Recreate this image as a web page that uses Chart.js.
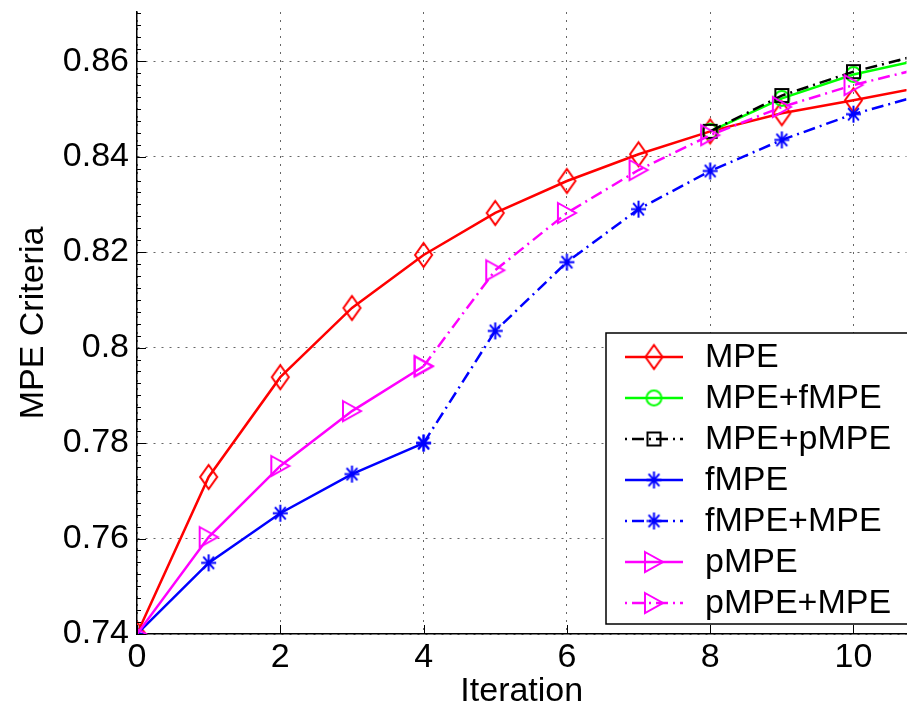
<!DOCTYPE html>
<html><head><meta charset="utf-8">
<script src="https://cdn.jsdelivr.net/npm/chart.js@4/dist/chart.umd.min.js"></script>
<style>html,body{margin:0;padding:0;background:#fff}canvas{display:block}</style>
</head><body>
<canvas id="c" width="907" height="709"></canvas>
<script>
// ---- data ----
const xTicks = [0, 2, 4, 6, 8, 10];
const yTicks = [0.74, 0.76, 0.78, 0.8, 0.82, 0.84, 0.86];
const yTickLabels = ['0.74', '0.76', '0.78', '0.8', '0.82', '0.84', '0.86'];
const seriesNames = ['MPE', 'MPE+fMPE', 'MPE+pMPE', 'fMPE', 'fMPE+MPE', 'pMPE', 'pMPE+MPE'];

const iterAll   = [0, 1, 2, 3, 4, 5, 6, 7, 8, 9, 10, 11];
const iterEarly = [0, 1, 2, 3, 4];
const iterMid   = [4, 5, 6, 7, 8, 9, 10, 11];
const iterLate  = [8, 9, 10, 11];

const valMPE      = [0.74, 0.7729, 0.7938, 0.8083, 0.8194, 0.8282, 0.8349, 0.8405, 0.8453, 0.8491, 0.8518, 0.8547];
const valMPEfMPE  = [0.8453, 0.8522, 0.8572, 0.8605];
const valMPEpMPE  = [0.8453, 0.8528, 0.8578, 0.8616];
const valfMPE     = [0.74, 0.7549, 0.7653, 0.7735, 0.7800];
const valfMPEMPE  = [0.7800, 0.8035, 0.8179, 0.8290, 0.8370, 0.8435, 0.8489, 0.8531];
const valpMPE     = [0.74, 0.7603, 0.7752, 0.7867, 0.7961];
const valpMPEMPE  = [0.7961, 0.8162, 0.8282, 0.8372, 0.8445, 0.8504, 0.8550, 0.8587];

// ---- styling ----
const FONT = "'Liberation Sans', Arial, Helvetica, sans-serif";
Chart.defaults.font.family = FONT;
Chart.defaults.color = '#000';

function marker(kind, color) {
  const lw = 2;
  let w, h;
  if (kind === 'diamond') { w = 17; h = 24; }
  else if (kind === 'circle') { w = 15; h = 15; }
  else if (kind === 'square') { w = 13; h = 13; }
  else if (kind === 'star') { w = 15; h = 17; }
  else { w = 18; h = 20; }
  const c = document.createElement('canvas');
  c.width = Math.ceil(w + lw * 2 + 2); c.height = Math.ceil(h + lw * 2 + 2);
  const g = c.getContext('2d');
  g.strokeStyle = color; g.lineWidth = lw; g.lineJoin = 'miter';
  const cx = c.width / 2, cy = c.height / 2;
  g.beginPath();
  if (kind === 'diamond') {
    g.moveTo(cx, cy - h / 2); g.lineTo(cx + w / 2, cy); g.lineTo(cx, cy + h / 2); g.lineTo(cx - w / 2, cy); g.closePath();
  } else if (kind === 'circle') {
    g.arc(cx, cy, w / 2, 0, Math.PI * 2);
  } else if (kind === 'square') {
    g.rect(cx - w / 2, cy - h / 2, w, h);
  } else if (kind === 'star') {
    g.moveTo(cx, cy - h / 2); g.lineTo(cx, cy + h / 2);
    g.moveTo(cx - w / 2, cy); g.lineTo(cx + w / 2, cy);
    const dx = w / 2 * 0.72, dy = h / 2 * 0.72;
    g.moveTo(cx - dx, cy - dy); g.lineTo(cx + dx, cy + dy);
    g.moveTo(cx - dx, cy + dy); g.lineTo(cx + dx, cy - dy);
  } else {
    g.moveTo(cx - w / 2, cy - h / 2); g.lineTo(cx + w / 2, cy); g.lineTo(cx - w / 2, cy + h / 2); g.closePath();
  }
  g.stroke();
  return c;
}

const DASHDOT = [12, 5, 2, 5];
const specs = [
  { x: iterAll,   y: valMPE,     color: '#ff0000', mk: 'diamond', dash: [] },
  { x: iterLate,  y: valMPEfMPE, color: '#00ff00', mk: 'circle',  dash: [] },
  { x: iterLate,  y: valMPEpMPE, color: '#000000', mk: 'square',  dash: DASHDOT },
  { x: iterEarly, y: valfMPE,    color: '#0000ff', mk: 'star',    dash: [] },
  { x: iterMid,   y: valfMPEMPE, color: '#0000ff', mk: 'star',    dash: DASHDOT },
  { x: iterEarly, y: valpMPE,    color: '#ff00ff', mk: 'tri',     dash: [] },
  { x: iterMid,   y: valpMPEMPE, color: '#ff00ff', mk: 'tri',     dash: DASHDOT }
];

const datasets = specs.map((s, i) => ({
  label: seriesNames[i],
  data: s.x.map((xv, k) => ({ x: xv, y: s.y[k] })),
  borderColor: s.color,
  backgroundColor: s.color,
  borderWidth: 2.5,
  borderDash: s.dash,
  pointStyle: marker(s.mk, s.color),
  pointRadius: 0.5,
  pointBorderWidth: 0,
  pointHoverRadius: 0.5,
  fill: false,
  tension: 0,
  order: specs.length - 1 - i
}));

const decor = {
  id: 'decor',
  afterDraw(chart) {
    const ctx = chart.ctx;
    const xs = chart.scales.x, ys = chart.scales.y;
    const a = chart.chartArea;
    ctx.save();
    ctx.strokeStyle = '#000';
    ctx.lineWidth = 1;
    ctx.setLineDash([]);
    // major ticks (inside)
    ctx.beginPath();
    xTicks.forEach(v => { const p = Math.round(xs.getPixelForValue(v)) + 0.5; ctx.moveTo(p, a.bottom); ctx.lineTo(p, a.bottom - 9); });
    yTicks.forEach(v => { const p = Math.round(ys.getPixelForValue(v)) + 0.5; ctx.moveTo(a.left, p); ctx.lineTo(a.left + 9, p); });
    ctx.stroke();
    // minor ticks on y
    ctx.beginPath();
    for (let k = 0; k < 53; k++) {
      const v = 0.74 + k * 0.0025;
      if (v > ys.max) break;
      const p = Math.round(ys.getPixelForValue(v)) + 0.5;
      ctx.moveTo(a.left, p); ctx.lineTo(a.left + 4, p);
    }
    ctx.stroke();

    // legend
    const bx = 606, by = 333, bw = 330, bh = 291;
    ctx.fillStyle = '#fff';
    ctx.fillRect(bx, by, bw, bh);
    ctx.lineWidth = 1.5;
    ctx.strokeStyle = '#000';
    ctx.strokeRect(bx, by, bw, bh);
    ctx.font = '34px ' + FONT;
    ctx.textBaseline = 'middle';
    ctx.textAlign = 'left';
    chart.data.datasets.forEach((ds, i) => {
      const y = 357 + 41 * i;
      ctx.save();
      ctx.strokeStyle = ds.borderColor;
      ctx.lineWidth = ds.borderWidth;
      ctx.setLineDash(ds.borderDash);
      if (ds.borderDash.length) ctx.lineDashOffset = 17;
      ctx.beginPath(); ctx.moveTo(625, y); ctx.lineTo(683, y); ctx.stroke();
      ctx.restore();
      const img = ds.pointStyle;
      ctx.drawImage(img, 654 - img.width / 2, y - img.height / 2);
      ctx.fillStyle = '#000';
      ctx.fillText(ds.label, 705, y + 1);
    });
    ctx.restore();
  }
};

new Chart(document.getElementById('c'), {
  type: 'line',
  data: { datasets },
  options: {
    responsive: false,
    animation: false,
    devicePixelRatio: 1,
    layout: { padding: { top: 12, left: 0, right: 0, bottom: 0 } },
    plugins: { legend: { display: false }, tooltip: { enabled: false } },
    scales: {
      x: {
        type: 'linear', min: 0, max: 10.74,
        afterBuildTicks: s => { s.ticks = xTicks.map(v => ({ value: v })); },
        afterFit: s => { s.height = 75; s.paddingLeft = 0; s.paddingRight = 0; },
        ticks: { font: { size: 34, lineHeight: 1 }, color: '#000', padding: 7, maxRotation: 0, autoSkip: false, callback: v => String(v) },
        grid: { color: 'rgba(0,0,0,0.6)', lineWidth: 1, drawTicks: false },
        border: { display: true, color: '#000', width: 1.5, dash: [2, 6] },
        title: { display: true, text: 'Iteration', font: { size: 34, lineHeight: 1 }, color: '#000', padding: { top: 0, bottom: 0 } }
      },
      y: {
        type: 'linear', min: 0.74, max: 0.8703,
        afterBuildTicks: s => { s.ticks = yTicks.map(v => ({ value: v })); },
        afterFit: s => { s.width = 137; s.paddingTop = 0; s.paddingBottom = 0; },
        ticks: { font: { size: 34, lineHeight: 1 }, color: '#000', padding: 8, autoSkip: false, callback: (v, i) => yTickLabels[i] },
        grid: { color: 'rgba(0,0,0,0.6)', lineWidth: 1, drawTicks: false },
        border: { display: true, color: '#000', width: 1.5, dash: [2, 6] },
        title: { display: true, text: 'MPE Criteria', font: { size: 34, lineHeight: 1 }, color: '#000', padding: { top: 17, bottom: 0 } }
      }
    }
  },
  plugins: [decor]
});
</script>
</body></html>
